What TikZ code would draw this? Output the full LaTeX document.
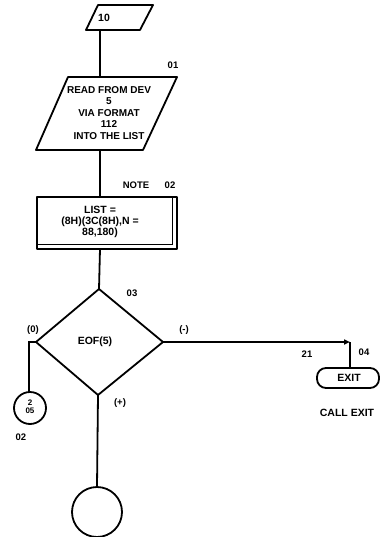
\documentclass[tikz,border=0pt]{standalone}
\usepackage{fontspec}
\setmainfont{Liberation Sans}
\usetikzlibrary{arrows.meta}
\begin{document}
\begin{tikzpicture}[x=1pt,y=-1pt,
  every node/.style={font=\bfseries\fontsize{10.5}{11}\selectfont, inner sep=0pt},
  shape line/.style={line width=1.8pt, line join=round},
  flow/.style={line width=1.8pt},
  lbl/.style={font=\bfseries\fontsize{9.5}{10}\selectfont},
  txt/.style={align=center}]
\useasboundingbox (0,0) rectangle (380,537);
% top parallelogram
\draw[shape line] (98,5) -- (153,5) -- (140,30) -- (86,30) -- cycle;
\node[txt] (n10) at (104,18) {10};
\coordinate (p1b) at (100,30);
% read parallelogram
\draw[shape line] (68,77) -- (177,77) -- (143,150) -- (36,150) -- cycle;
\coordinate (p2t) at (100,77);
\coordinate (p2b) at (100,150);
\node[txt, font=\bfseries\fontsize{10}{11.5}\selectfont] (read) at (109,113)
  {READ FROM DEV\\5\\VIA FORMAT\\112\\INTO THE LIST};
\node[lbl] (l01) at (173,65) {01};
% note rectangle
\draw[shape line] (37,197) rectangle (177,249);
\draw[line width=1.2pt] (37,244.5) -- (172.5,244.5) -- (172.5,197);
\coordinate (r1t) at (100,197);
\coordinate (r1b) at (100,249);
\node[txt] (list) at (100,222) {LIST =\\(8H)(3C(8H),N =\\88,180)};
\node[lbl] (note) at (136,185) {NOTE};
\node[lbl] (l02) at (170,185) {02};
% diamond
\coordinate (dt) at (99,289);
\coordinate (dl) at (36,342);
\coordinate (dr) at (163,342);
\coordinate (db) at (98,395);
\draw[shape line] (dt) -- (dr) -- (db) -- (dl) -- cycle;
\node (eof) at (95,342) {EOF(5)};
\node[lbl] (l03) at (132,293) {03};
\node[lbl] (lzero) at (33,330) {(0)};
\node[lbl] (lminus) at (184,330) {(-)};
\node[lbl] (lplus) at (120,403) {(+)};
% exit
\draw[shape line, rounded corners=9pt] (317,368) rectangle (379,388);
\node (exit) at (349,378) {EXIT};
\coordinate (et) at (350,368);
\coordinate (corner) at (350,342);
\node[lbl] (l21) at (307,354) {21};
\node[lbl] (l04) at (364,352) {04};
\node[lbl, font=\bfseries\fontsize{10.5}{11}\selectfont] (callexit) at (347,413) {CALL EXIT};
% small connector circle
\draw[shape line] (30,408) circle (16);
\coordinate (ct) at (29,392);
\coordinate (cl) at (29,342);
\node[font=\bfseries\fontsize{8}{8}\selectfont, align=center] (c2) at (30,407) {2\\05};
\node[lbl] (l02b) at (21,437) {02};
% bottom circle
\draw[shape line] (97,512) circle (25);
\coordinate (bt) at (97,487);
% connectors
\draw[flow] (p1b) -- (p2t);
\draw[flow] (p2b) -- (r1t);
\draw[flow] (r1b) -- (dt);
\draw[flow, -{Triangle[length=6pt,width=5pt]}] (dr) -- (corner);
\draw[flow] (corner) -- (et);
\draw[flow] (dl) -- (cl) -- (ct);
\draw[flow] (db) -- (bt);
\end{tikzpicture}
\end{document}
